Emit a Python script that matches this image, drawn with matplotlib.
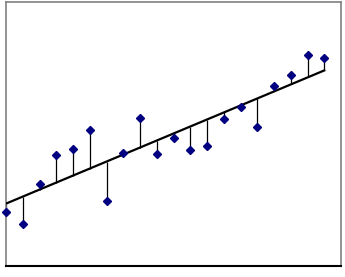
import numpy as np
import matplotlib
matplotlib.use("Agg")
import matplotlib.pyplot as plt

x_vals = list(range(20))
y_vals = [2.03, 1.58, 3.09, 4.20, 4.44, 5.16, 2.44, 4.28, 5.61, 4.23,
          4.84, 4.37, 4.53, 5.56, 6.02, 5.25, 6.81, 7.23, 7.97, 7.88]

x = np.array(x_vals, dtype=float)
y = np.array(y_vals)

# least squares fit line
slope, intercept = np.polyfit(x, y, 1)
fit = intercept + slope * x

W, H = 345, 277
fig = plt.figure(figsize=(W / 100, H / 100), dpi=100)
ax = fig.add_axes([6 / W, (H - 266) / H, (341 - 6) / W, (266 - 1.5) / H])

# residuals
ax.vlines(x, fit, y, colors="black", linewidth=0.9, zorder=2)
ax.plot(x, fit, color="black", linewidth=1.6, zorder=3)
ax.plot(x, y, linestyle="none", marker="D", markersize=4,
        color="#000080", markeredgecolor="#000080", zorder=4, clip_on=False)

ax.set_xlim(0, 20)
ax.set_ylim(0, 10)
ax.set_xticks([])
ax.set_yticks([])
for side in ["left", "top", "right"]:
    ax.spines[side].set_color("#808080")
    ax.spines[side].set_linewidth(1.2)
ax.spines["bottom"].set_color("black")
ax.spines["bottom"].set_linewidth(1.5)

fig.savefig("out.png", dpi=100)
